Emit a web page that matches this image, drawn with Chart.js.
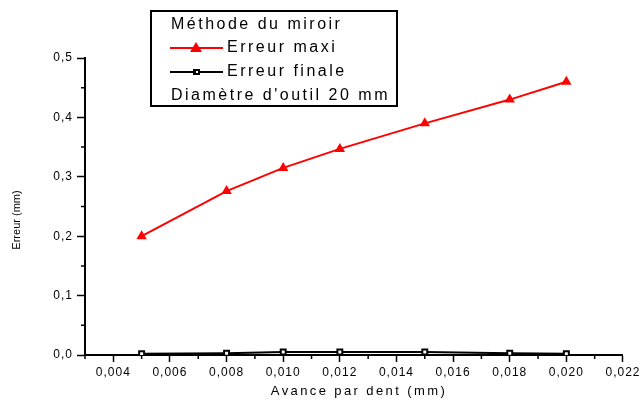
<!DOCTYPE html>
<html>
<head>
<meta charset="utf-8">
<script src="https://cdn.jsdelivr.net/npm/chart.js@4.4.1/dist/chart.umd.min.js"></script>
<style>
    html, body { margin: 0; padding: 0; background: #fff; }
    #wrap { width: 641px; height: 403px; }
</style>
</head>
<body>
<div id="wrap"><canvas id="chart" width="641" height="403"></canvas></div>
<script>
// avance par dent (mm)
const avance = [0.005, 0.008, 0.010, 0.012, 0.015, 0.018, 0.020];
// erreurs (mm)
const erreurMaxi = [0.200, 0.276, 0.315, 0.347, 0.390, 0.430, 0.460];
const erreurFinale = [0.002, 0.003, 0.005, 0.005, 0.005, 0.003, 0.002];

const xMajor = [0.004, 0.006, 0.008, 0.010, 0.012, 0.014, 0.016, 0.018, 0.020, 0.022];
const xMinor = [0.003, 0.005, 0.007, 0.009, 0.011, 0.013, 0.015, 0.017, 0.019, 0.021];
const yMajor = [0.0, 0.1, 0.2, 0.3, 0.4, 0.5];
const yMinor = [0.05, 0.15, 0.25, 0.35, 0.45];

const legendTitle = 'Méthode du miroir';
const legendNote = "Diamètre d'outil 20 mm";
const xTitle = 'Avance par dent (mm)';
const yTitle = 'Erreur (mm)';

const FONT = '"Liberation Sans", Arial, sans-serif';

const toPoints = (xs, ys) => xs.map((x, i) => ({ x: x, y: ys[i] }));
const fmt = (v, d) => v.toFixed(d).replace('.', ',');

// minor ticks, axis titles and the boxed legend (Origin style)
const decor = {
    id: 'decor',
    beforeDraw(chart) {
        chart.ctx.letterSpacing = '1px';
    },
    afterDraw(chart) {
        const ctx = chart.ctx;
        const xs = chart.scales.x;
        const ys = chart.scales.y;
        const area = chart.chartArea;
        ctx.save();
        ctx.strokeStyle = '#000';
        ctx.lineWidth = 1.5;
        ctx.beginPath();
        xMinor.forEach(v => {
            const px = xs.getPixelForValue(v);
            ctx.moveTo(px, area.bottom);
            ctx.lineTo(px, area.bottom + 4);
        });
        yMinor.forEach(v => {
            const py = ys.getPixelForValue(v);
            ctx.moveTo(area.left, py);
            ctx.lineTo(area.left - 4, py);
        });
        ctx.stroke();

        // axis titles
        ctx.fillStyle = '#000';
        ctx.textAlign = 'center';
        ctx.textBaseline = 'middle';
        ctx.letterSpacing = '2.4px';
        ctx.font = '13px ' + FONT;
        ctx.fillText(xTitle, 359, 391);
        ctx.letterSpacing = '0px';
        ctx.font = '11px ' + FONT;
        ctx.save();
        ctx.translate(17, 220);
        ctx.rotate(-Math.PI / 2);
        ctx.fillText(yTitle, 0, 0);
        ctx.restore();

        // legend box
        ctx.fillStyle = '#fff';
        ctx.fillRect(151, 11, 246, 95);
        ctx.lineWidth = 2;
        ctx.strokeStyle = '#000';
        ctx.strokeRect(151, 11, 246, 95);
        ctx.font = '16px ' + FONT;
        ctx.letterSpacing = '2.5px';
        ctx.textAlign = 'left';
        ctx.fillStyle = '#000';
        ctx.fillText(legendTitle, 171, 25);
        ctx.fillText(legendNote, 171, 96);
        ctx.fillText('Erreur maxi', 227, 48);
        ctx.fillText('Erreur finale', 227, 72);

        // legend samples
        ctx.lineWidth = 2;
        ctx.strokeStyle = '#ff0000';
        ctx.beginPath();
        ctx.moveTo(170, 48); ctx.lineTo(223, 48);
        ctx.stroke();
        ctx.fillStyle = '#ff0000';
        ctx.beginPath();
        ctx.moveTo(196, 42); ctx.lineTo(202, 52); ctx.lineTo(190, 52);
        ctx.closePath();
        ctx.fill();
        ctx.strokeStyle = '#000';
        ctx.beginPath();
        ctx.moveTo(170, 72); ctx.lineTo(223, 72);
        ctx.stroke();
        ctx.fillStyle = '#000';
        ctx.fillRect(193, 69, 7, 6);
        ctx.fillStyle = '#fff';
        ctx.fillRect(196, 71, 2, 2);
        ctx.restore();
    }
};

new Chart(document.getElementById('chart'), {
    type: 'line',
    data: {
        datasets: [
            {
                label: 'Erreur maxi',
                data: toPoints(avance, erreurMaxi),
                borderColor: '#ff0000',
                backgroundColor: '#ff0000',
                borderWidth: 2,
                pointStyle: 'triangle',
                pointRadius: 6,
                pointBorderWidth: 0,
                tension: 0
            },
            {
                label: 'Erreur finale',
                data: toPoints(avance, erreurFinale),
                borderColor: '#000',
                backgroundColor: '#fff',
                borderWidth: 2,
                pointStyle: 'rect',
                pointRadius: 3.5,
                pointBorderWidth: 2,
                tension: 0
            }
        ]
    },
    options: {
        responsive: false,
        animation: false,
        layout: {
            padding: { top: 58, right: 18, left: 0, bottom: 0 }
        },
        plugins: {
            legend: { display: false },
            tooltip: { enabled: false }
        },
        scales: {
            x: {
                type: 'linear',
                min: 0.003,
                max: 0.022,
                afterBuildTicks: scale => {
                    scale.ticks = xMajor.map(v => ({ value: v }));
                },
                afterFit: scale => { scale.height = 48; },
                grid: {
                    drawOnChartArea: false,
                    drawTicks: true,
                    tickLength: 7,
                    tickWidth: 1.5,
                    tickColor: '#000'
                },
                border: { color: '#000', width: 2 },
                ticks: {
                    color: '#000',
                    padding: 3,
                    maxRotation: 0,
                    autoSkip: false,
                    font: { family: FONT, size: 12 },
                    callback: v => fmt(v, 3)
                }
            },
            y: {
                type: 'linear',
                min: 0,
                max: 0.5,
                afterBuildTicks: scale => {
                    scale.ticks = yMajor.map(v => ({ value: v }));
                },
                afterFit: scale => { scale.width = 85; },
                grid: {
                    drawOnChartArea: false,
                    drawTicks: true,
                    tickLength: 8,
                    tickWidth: 1.5,
                    tickColor: '#000'
                },
                border: { color: '#000', width: 2 },
                ticks: {
                    color: '#000',
                    padding: 4,
                    autoSkip: false,
                    font: { family: FONT, size: 12 },
                    callback: v => fmt(v, 1)
                }
            }
        }
    },
    plugins: [decor]
});
</script>
</body>
</html>
